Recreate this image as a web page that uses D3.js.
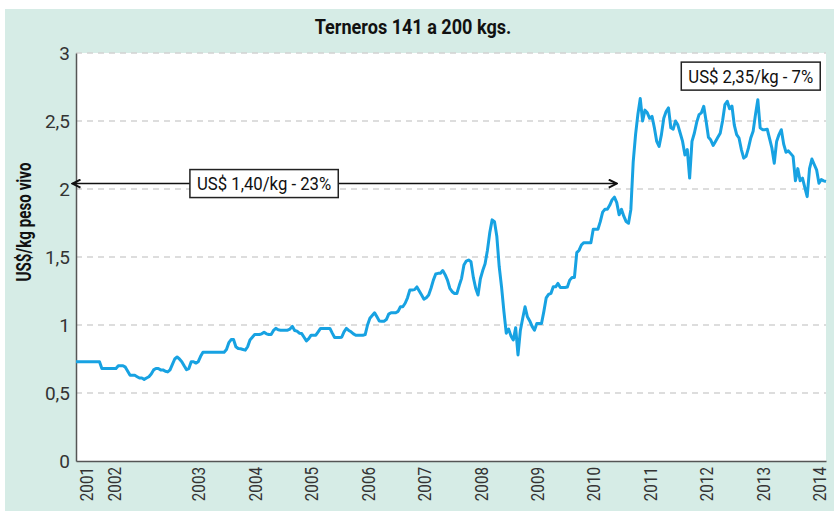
<!DOCTYPE html>
<html>
<head>
<meta charset="utf-8">
<script src="https://cdnjs.cloudflare.com/ajax/libs/d3/7.8.5/d3.min.js"></script>
<style>
  body {margin: 0; background: #fff;}
  svg {display: block;}
</style>
</head>
<body>
<div id="chart"></div>
<script>
// precios aprox. US$/kg peso vivo
var late2000 = [0.73, 0.73, 0.73, 0.73];
var v2001 = [0.73, 0.73, 0.73, 0.73, 0.73, 0.73, 0.73, 0.68, 0.68, 0.68, 0.68, 0.68];
var v2002 = [0.68, 0.68, 0.70, 0.70, 0.70, 0.69, 0.66, 0.63, 0.63, 0.63, 0.62, 0.61,
             0.61, 0.60, 0.61, 0.62, 0.64, 0.67, 0.68, 0.68, 0.67, 0.67, 0.66, 0.655,
             0.67, 0.71, 0.75, 0.765, 0.75, 0.73, 0.70, 0.672, 0.68, 0.73, 0.73, 0.72];
var v2003 = [0.73, 0.77, 0.80, 0.80, 0.80, 0.80, 0.80, 0.80, 0.80, 0.80, 0.80, 0.80,
             0.82, 0.87, 0.893, 0.893, 0.84, 0.827, 0.825, 0.82, 0.815, 0.84, 0.89, 0.91];
var v2004 = [0.93, 0.93, 0.93, 0.935, 0.947, 0.935, 0.93, 0.93, 0.96, 0.975, 0.965, 0.962,
             0.962, 0.962, 0.962, 0.97, 0.99, 0.96, 0.955, 0.94, 0.937, 0.91, 0.883, 0.90];
var v2005 = [0.925, 0.925, 0.925, 0.95, 0.975, 0.975, 0.975, 0.975, 0.975, 0.94, 0.908, 0.908,
             0.908, 0.91, 0.95, 0.975, 0.96, 0.95, 0.935, 0.925, 0.925, 0.925, 0.925, 0.93];
var v2006 = [1.0, 1.05, 1.07, 1.09, 1.06, 1.03, 1.028, 1.028, 1.04, 1.08, 1.09, 1.09,
             1.09, 1.10, 1.134, 1.134, 1.16, 1.20, 1.257, 1.257, 1.26, 1.28, 1.25, 1.22];
var v2007 = [1.19, 1.20, 1.22, 1.27, 1.33, 1.375, 1.38, 1.38, 1.40, 1.37, 1.33, 1.27,
             1.245, 1.232, 1.232, 1.29, 1.343, 1.441, 1.47, 1.478, 1.465, 1.35, 1.27, 1.22];
var v2008 = [1.34, 1.40, 1.45, 1.55, 1.68, 1.773, 1.76, 1.65, 1.43, 1.28, 1.10, 0.94,
             0.97, 0.92, 0.89, 0.98, 0.78, 0.96, 1.05, 1.134, 1.06, 1.03, 0.99, 0.962];
var v2009 = [1.011, 1.011, 1.011, 1.10, 1.20, 1.225, 1.232, 1.281, 1.281, 1.306, 1.276, 1.276,
             1.276, 1.28, 1.33, 1.35, 1.35, 1.532, 1.55, 1.59, 1.605, 1.605, 1.605, 1.605];
var v2010 = [1.704, 1.704, 1.704, 1.76, 1.83, 1.851, 1.851, 1.88, 1.92, 1.94, 1.90, 1.81,
             1.851, 1.80, 1.76, 1.748, 1.85, 2.20, 2.40, 2.55, 2.665, 2.50, 2.58, 2.56];
var v2011 = [2.52, 2.534, 2.45, 2.35, 2.313, 2.40, 2.52, 2.57, 2.596, 2.45, 2.44, 2.50,
             2.47, 2.41, 2.35, 2.25, 2.29, 2.08, 2.35, 2.41, 2.49, 2.547, 2.56, 2.608];
var v2012 = [2.50, 2.38, 2.36, 2.32, 2.35, 2.38, 2.41, 2.50, 2.62, 2.645, 2.59, 2.61,
             2.47, 2.40, 2.375, 2.29, 2.227, 2.24, 2.30, 2.375, 2.424, 2.547, 2.657, 2.45];
var v2013 = [2.436, 2.436, 2.44, 2.37, 2.30, 2.19, 2.35, 2.40, 2.436, 2.33, 2.27, 2.28,
             2.26, 2.24, 2.06, 2.15, 2.06, 2.08, 2.01, 1.944, 2.15, 2.22, 2.18, 2.141];
var v2014 = [2.043, 2.07, 2.06, 2.055];

var yearLabels = ["2001", "2002", "2003", "2004", "2005", "2006", "2007",
                  "2008", "2009", "2010", "2011", "2012", "2013", "2014"];
var yearSeries = [v2001, v2002, v2003, v2004, v2005, v2006, v2007,
                  v2008, v2009, v2010, v2011, v2012, v2013, v2014];
var yTicks = [0, 0.5, 1, 1.5, 2, 2.5, 3];

// anotaciones
var annLabels = ["US$ 1,40/kg - 23%", "US$ 2,35/kg - 7%"];
var annIndex = [80, 287];
var annValue = [2.04, 2.83];
var arrowFrom = -1.5, arrowTo = 230, arrowValue = 2.04;

var W = 834, H = 511;
var margin = {top: 53, right: 8, bottom: 50, left: 76};
var w = W - margin.left - margin.right,
    h = H - margin.top - margin.bottom;

var font = 'Roboto, "Liberation Sans", sans-serif';
var lineColor = '#17a2e2';

// no hay fuente condensada: se comprime el texto a lo ancho
function condense(sel, f) {
    sel.each(function() {
        var len = this.getComputedTextLength();
        d3.select(this)
            .attr('textLength', len * f)
            .attr('lengthAdjust', 'spacingAndGlyphs');
    });
}

// serie completa + indice donde arranca cada año
var series = late2000.slice();
var yearStart = [];
yearSeries.forEach(function(arr) {
    yearStart.push(series.length);
    series = series.concat(arr);
});

var svg = d3.select('#chart').append('svg')
    .attr('width', W)
    .attr('height', H);

svg.append('rect')
    .attr('x', 5).attr('y', 9)
    .attr('width', W - 5).attr('height', H - 9)
    .attr('fill', '#d6ece6');

svg.append('text')
    .attr('x', 413).attr('y', 34)
    .attr('text-anchor', 'middle')
    .style('font-family', font)
    .style('font-weight', 'bold')
    .style('font-size', '21px')
    .attr('fill', '#111')
    .text('Terneros 141 a 200 kgs.')
    .call(condense, 0.86);

var g = svg.append('g')
    .attr('transform', 'translate(' + margin.left + ',' + margin.top + ')');

g.append('rect')
    .attr('width', w).attr('height', h)
    .attr('fill', '#fff');

var x = d3.scaleLinear()
    .domain([0, series.length - 1])
    .range([0, w]);

var y = d3.scaleLinear()
    .domain([0, 3])
    .range([h, 0]);

var es = d3.formatLocale({decimal: ',', thousands: '.', grouping: [3], currency: ['US$', '']});

// grilla
g.append('g')
    .selectAll('line')
    .data(yTicks.filter(function(d) { return d > 0; }))
    .enter().append('line')
    .attr('x1', 0).attr('x2', w)
    .attr('y1', function(d) { return y(d); })
    .attr('y2', function(d) { return y(d); })
    .attr('stroke', '#d2d2d2')
    .attr('stroke-width', 1.5)
    .attr('stroke-dasharray', '6,5');

// eje y
var yAxis = g.append('g')
    .call(d3.axisLeft(y).tickValues(yTicks).tickSize(0).tickPadding(6).tickFormat(es.format('~g')));
yAxis.select('.domain').attr('stroke', '#555').attr('stroke-width', 1.5);
yAxis.selectAll('text')
    .style('font-family', font)
    .style('font-size', '19px')
    .attr('fill', '#333');

// eje x
var xAxis = g.append('g')
    .attr('transform', 'translate(0,' + h + ')')
    .call(d3.axisBottom(x).tickValues(yearStart).tickSize(0)
        .tickFormat(function(d, i) { return yearLabels[i]; }));
xAxis.select('.domain').attr('stroke', '#555').attr('stroke-width', 1.5);
xAxis.selectAll('text')
    .attr('y', 0).attr('dy', '0.35em')
    .attr('transform', 'translate(0,6) rotate(-90)')
    .style('text-anchor', 'end')
    .style('font-family', font)
    .style('font-size', '19px')
    .attr('fill', '#333')
    .call(condense, 0.8);

svg.append('text')
    .attr('transform', 'translate(31,222) rotate(-90)')
    .attr('text-anchor', 'middle')
    .style('font-family', font)
    .style('font-weight', 'bold')
    .style('font-size', '19.5px')
    .attr('fill', '#111')
    .text('US$/kg peso vivo')
    .call(condense, 0.78);

// linea de precios
var line = d3.line()
    .x(function(d, i) { return x(i); })
    .y(function(d) { return y(d); });

g.append('path')
    .datum(series)
    .attr('d', line)
    .attr('fill', 'none')
    .attr('stroke', lineColor)
    .attr('stroke-width', 3)
    .attr('stroke-linejoin', 'round');

// flecha doble
var defs = svg.append('defs');
['start', 'end'].forEach(function(k) {
    defs.append('marker')
        .attr('id', 'arrow-' + k)
        .attr('viewBox', '0 0 10 10')
        .attr('refX', k == 'end' ? 9 : 1).attr('refY', 5)
        .attr('markerWidth', 10).attr('markerHeight', 10)
        .attr('markerUnits', 'userSpaceOnUse')
        .attr('orient', 'auto')
        .append('path')
        .attr('d', k == 'end' ? 'M1,1 L9,5 L1,9' : 'M9,1 L1,5 L9,9')
        .attr('fill', 'none')
        .attr('stroke', '#111')
        .attr('stroke-width', 2);
});

g.append('line')
    .attr('x1', x(arrowFrom)).attr('x2', x(arrowTo))
    .attr('y1', y(arrowValue)).attr('y2', y(arrowValue))
    .attr('stroke', '#111')
    .attr('stroke-width', 1.5)
    .attr('marker-start', 'url(#arrow-start)')
    .attr('marker-end', 'url(#arrow-end)');

// cajas de texto
annLabels.forEach(function(t, i) {
    var box = g.append('g')
        .attr('transform', 'translate(' + x(annIndex[i]) + ',' + y(annValue[i]) + ')');
    var r = box.append('rect')
        .attr('fill', '#fff')
        .attr('stroke', '#222')
        .attr('stroke-width', 1.5);
    var txt = box.append('text')
        .attr('text-anchor', 'middle')
        .attr('dy', '0.35em')
        .style('font-family', font)
        .style('font-size', '19px')
        .attr('fill', '#111')
        .text(t)
        .call(condense, 0.88);
    var len = txt.attr('textLength');
    r.attr('x', -len / 2 - 7).attr('y', -14)
        .attr('width', +len + 14).attr('height', 28);
});
</script>
</body>
</html>
